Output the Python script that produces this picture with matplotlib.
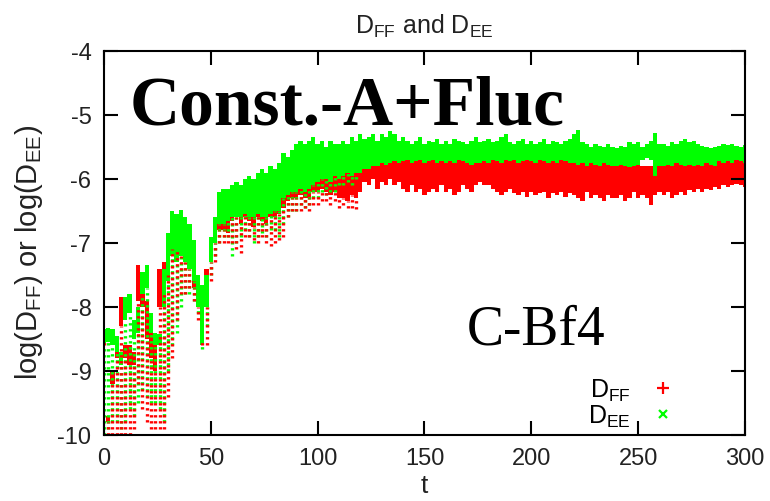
import numpy as np
import matplotlib
matplotlib.use('Agg')
import matplotlib.pyplot as plt
from matplotlib.lines import Line2D

# time samples (every 2 units of t)
t = np.arange(0, 301, 2)

# D_EE (green): dense band top / bottom
dee_hi = [-8.35, -8.33, -8.35, -8.45, -8.7, -7.85, -7.8, -8.2, -8.0, -7.45,
          -7.35, -8.1, -8.4, -8.42, -7.4, -6.85, -6.5, -6.55, -6.48, -6.6,
          -6.7, -6.95, -7.5, -7.65, -7.5, -6.9, -6.6, -6.2, -6.15, -6.15,
          -6.1, -6.05, -6.1, -6.0, -5.95, -6.0, -5.9, -5.85, -5.9, -5.8,
          -5.85, -5.75, -5.6, -5.65, -5.55, -5.45, -5.4, -5.45, -5.4, -5.35,
          -5.45, -5.4, -5.5, -5.4, -5.45, -5.45, -5.4, -5.45, -5.35, -5.4,
          -5.3, -5.38, -5.35, -5.3, -5.4, -5.3, -5.35, -5.25, -5.3, -5.4,
          -5.35, -5.4, -5.45, -5.4, -5.35, -5.45, -5.4, -5.42, -5.38, -5.45,
          -5.4, -5.45, -5.38, -5.4, -5.42, -5.45, -5.4, -5.35, -5.42, -5.4,
          -5.38, -5.42, -5.4, -5.35, -5.3, -5.42, -5.45, -5.4, -5.38, -5.45,
          -5.4, -5.45, -5.42, -5.38, -5.45, -5.4, -5.42, -5.45, -5.4, -5.38,
          -5.3, -5.24, -5.42, -5.45, -5.5, -5.45, -5.48, -5.5, -5.45, -5.5,
          -5.52, -5.48, -5.5, -5.43, -5.45, -5.42, -5.5, -5.45, -5.4, -5.28,
          -5.45, -5.45, -5.48, -5.42, -5.45, -5.4, -5.38, -5.42, -5.4, -5.45,
          -5.48, -5.5, -5.52, -5.5, -5.48, -5.45, -5.47, -5.45, -5.48, -5.5,
          -5.47]
dee_lo = [-8.6, -8.55, -8.6, -8.7, -8.9, -8.2, -8.1, -8.5, -8.4, -7.8,
          -7.7, -8.4, -8.6, -8.6, -8.0, -7.6, -7.2, -7.3, -7.2, -7.3,
          -7.4, -7.6, -8.0, -8.6, -8.0, -7.3, -7.0, -6.7, -6.7, -6.65,
          -6.6, -6.6, -6.6, -6.55, -6.6, -6.6, -6.55, -6.6, -6.6, -6.55,
          -6.5, -6.5, -6.3, -6.25, -6.2, -6.2, -6.15, -6.2, -6.15, -6.1,
          -6.05, -6.0, -6.0, -6.05, -5.95, -6.0, -5.95, -5.9, -5.95, -5.9,
          -5.9, -5.85, -5.85, -5.8, -5.8, -5.75, -5.78, -5.75, -5.72, -5.75,
          -5.72, -5.7, -5.75, -5.72, -5.7, -5.75, -5.72, -5.7, -5.75, -5.72,
          -5.75, -5.72, -5.75, -5.7, -5.72, -5.75, -5.78, -5.75, -5.75, -5.72,
          -5.75, -5.7, -5.72, -5.75, -5.7, -5.72, -5.7, -5.75, -5.72, -5.7,
          -5.72, -5.75, -5.7, -5.72, -5.75, -5.72, -5.75, -5.7, -5.72, -5.75,
          -5.75, -5.78, -5.75, -5.8, -5.75, -5.78, -5.8, -5.75, -5.78, -5.8,
          -5.8, -5.78, -5.8, -5.82, -5.8, -5.78, -5.7, -5.68, -5.7, -5.95,
          -5.8, -5.8, -5.78, -5.8, -5.75, -5.78, -5.8, -5.78, -5.8, -5.78,
          -5.8, -5.75, -5.78, -5.8, -5.72, -5.75, -5.72, -5.75, -5.7, -5.72,
          -5.75]

# D_FF (red): dense band top / bottom
dff_hi = [-8.4, -9.7, -9.0, -8.6, -7.85, -8.6, -8.6, -8.7, -7.35, -7.45,
          -7.9, -8.3, -8.5, -7.4, -7.3, -7.0, -6.6, -6.55, -6.6, -6.65,
          -6.75, -7.0, -7.5, -8.0, -7.4, -7.0, -6.6, -6.3, -6.25, -6.2,
          -6.2, -6.15, -6.2, -6.1, -6.05, -6.1, -6.0, -5.95, -6.0, -5.9,
          -5.9, -5.85, -5.75, -5.7, -5.65, -5.55, -5.5, -5.55, -5.5, -5.45,
          -5.5, -5.5, -5.55, -5.5, -5.55, -5.5, -5.6, -5.55, -5.6, -5.65,
          -5.65, -5.7, -5.7, -5.68, -5.7, -5.65, -5.7, -5.68, -5.65, -5.7,
          -5.68, -5.65, -5.7, -5.68, -5.65, -5.7, -5.68, -5.65, -5.7, -5.68,
          -5.7, -5.68, -5.7, -5.65, -5.68, -5.7, -5.72, -5.7, -5.7, -5.68,
          -5.7, -5.65, -5.68, -5.7, -5.65, -5.68, -5.65, -5.7, -5.68, -5.65,
          -5.68, -5.7, -5.65, -5.68, -5.7, -5.68, -5.7, -5.65, -5.68, -5.7,
          -5.7, -5.72, -5.7, -5.75, -5.7, -5.72, -5.75, -5.7, -5.72, -5.75,
          -5.75, -5.72, -5.75, -5.76, -5.75, -5.72, -5.8, -5.8, -5.8, -5.75,
          -5.75, -5.75, -5.72, -5.75, -5.7, -5.72, -5.75, -5.72, -5.75, -5.72,
          -5.75, -5.7, -5.72, -5.75, -5.68, -5.7, -5.68, -5.7, -5.65, -5.68,
          -5.7]
dff_lo = [-8.55, -9.8, -9.2, -8.8, -8.3, -8.8, -8.9, -8.9, -7.9, -8.0,
          -8.5, -8.8, -9.0, -8.0, -7.8, -7.5, -7.1, -7.1, -7.2, -7.3,
          -7.4, -7.7, -8.0, -8.5, -8.0, -7.3, -7.0, -6.8, -6.8, -6.85,
          -6.65, -6.6, -6.7, -6.6, -6.65, -6.75, -6.6, -6.65, -6.7, -6.6,
          -6.6, -6.55, -6.45, -6.35, -6.3, -6.3, -6.25, -6.3, -6.3, -6.2,
          -6.2, -6.15, -6.2, -6.25, -6.2, -6.3, -6.3, -6.35, -6.25, -6.3,
          -6.2, -6.05, -6.1, -6.0, -6.15, -6.05, -6.1, -6.0, -6.1, -6.05,
          -6.15, -6.2, -6.1, -6.2, -6.15, -6.25, -6.2, -6.15, -6.2, -6.1,
          -6.2, -6.15, -6.25, -6.2, -6.1, -6.15, -6.2, -6.1, -6.05, -6.1,
          -6.1, -6.15, -6.2, -6.25, -6.2, -6.15, -6.22, -6.25, -6.2, -6.28,
          -6.2, -6.25, -6.22, -6.2, -6.3, -6.22, -6.25, -6.2, -6.28, -6.22,
          -6.25, -6.3, -6.35, -6.2, -6.3, -6.25, -6.3, -6.35, -6.25, -6.3,
          -6.3, -6.25, -6.35, -6.3, -6.2, -6.3, -6.25, -6.3, -6.4, -6.25,
          -6.2, -6.25, -6.2, -6.3, -6.25, -6.2, -6.25, -6.18, -6.2, -6.15,
          -6.2, -6.15, -6.18, -6.12, -6.15, -6.1, -6.12, -6.1, -6.08, -6.1,
          -6.12]

# sparse scattered points below the dense band (early part, t = 0..118)
t_tail = np.arange(0, 119, 2)
dee_floor = [-10.0, -9.9, -9.8, -9.8, -9.9, -9.8, -9.6, -9.7, -9.5, -9.3,
             -9.4, -9.5, -9.5, -9.6, -9.8, -9.0, -8.6, -8.4, -8.0, -7.8,
             -7.8, -7.9, -8.1, -8.65, -8.3, -7.5, -7.2, -7.0, -6.9, -6.9,
             -7.2, -7.0, -6.9, -6.8, -6.9, -7.0, -6.9, -6.85, -6.9, -6.8,
             -6.8, -6.9, -6.7, -6.6, -6.5, -6.5, -6.4, -6.45, -6.4, -6.3,
             -6.3, -6.2, -6.25, -6.2, -6.2, -6.1, -6.1, -6.05, -6.1, -6.0]
dff_floor = [-8.6, -10.0, -10.0, -10.0, -10.0, -10.0, -10.0, -9.9, -9.2, -9.6,
             -9.8, -9.9, -9.9, -9.9, -9.9, -9.4, -8.8, -8.2, -7.8, -7.8,
             -7.7, -7.9, -8.2, -8.6, -8.6, -7.6, -7.3, -7.0, -7.0, -7.0,
             -7.0, -7.1, -7.15, -6.9, -6.9, -6.95, -7.0, -6.9, -7.0, -7.05,
             -7.0, -6.95, -6.9, -6.6, -6.5, -6.5, -6.5, -6.45, -6.5, -6.4,
             -6.4, -6.35, -6.35, -6.4, -6.35, -6.45, -6.4, -6.45, -6.45, -6.47]

RED = '#ff0000'
GREEN = '#00ff00'
INK = '#222222'

plt.rcParams['font.family'] = ['Liberation Sans', 'DejaVu Sans']
plt.rcParams['mathtext.fontset'] = 'custom'
plt.rcParams['mathtext.rm'] = 'Liberation Sans'
plt.rcParams['mathtext.it'] = 'Liberation Sans'
plt.rcParams['mathtext.default'] = 'regular'
plt.rcParams['axes.unicode_minus'] = False

fig = plt.figure(figsize=(7.7, 5.02), dpi=100)
ax = fig.add_axes([0.135, 0.1315, 0.8325, 0.765])

n_tail = len(t_tail)
dots = (0, (0.7, 1.1))
ax.vlines(t_tail, dee_floor, dee_lo[:n_tail], colors=GREEN, linewidth=2.4, linestyles=dots)
ax.vlines(t_tail, dff_floor, dff_lo[:n_tail], colors=RED, linewidth=2.4, linestyles=dots)
ax.fill_between(t, dff_lo, dff_hi, step='mid', color=RED, linewidth=0)
ax.fill_between(t, dee_lo, dee_hi, step='mid', color=GREEN, linewidth=0)

ax.set_xlim(0, 300)
ax.set_ylim(-10, -4)
ax.set_xticks(range(0, 301, 50))
ax.set_yticks(range(-10, -3))
ax.tick_params(direction='in', length=10, width=1.5, top=True, right=True,
               labelsize=17, labelcolor=INK, pad=9)
for s in ax.spines.values():
    s.set_linewidth(1.5)

ax.set_title('$D_{FF}$ and $D_{EE}$', fontsize=18, color=INK, pad=13)
ax.set_xlabel('t', fontsize=19, color=INK)
ax.set_ylabel('log($D_{FF}$) or log($D_{EE}$)', fontsize=21, color=INK)
ax.xaxis.set_label_coords(0.5, -0.098)
ax.yaxis.set_label_coords(-0.092, 0.479)

ax.text(0.04, 0.81, 'Const.-A+Fluc', transform=ax.transAxes, family='Liberation Serif',
        weight='bold', fontsize=50, va='baseline')
ax.text(0.566, 0.237, 'C-Bf4', transform=ax.transAxes, family='Liberation Serif',
        fontsize=40, va='baseline')

handles = [Line2D([], [], color=RED, marker='+', ls='none', markersize=9, mew=1.6),
           Line2D([], [], color=GREEN, marker='x', ls='none', markersize=6, mew=1.6)]
ax.legend(handles, ['$D_{FF}$', '$D_{EE}$'], loc='lower right', bbox_to_anchor=(0.911, -0.018),
          markerfirst=False, frameon=False, fontsize=18, handlelength=1.0,
          handletextpad=0.8, labelspacing=0.0, borderpad=0)

fig.savefig('out.png', dpi=100)
